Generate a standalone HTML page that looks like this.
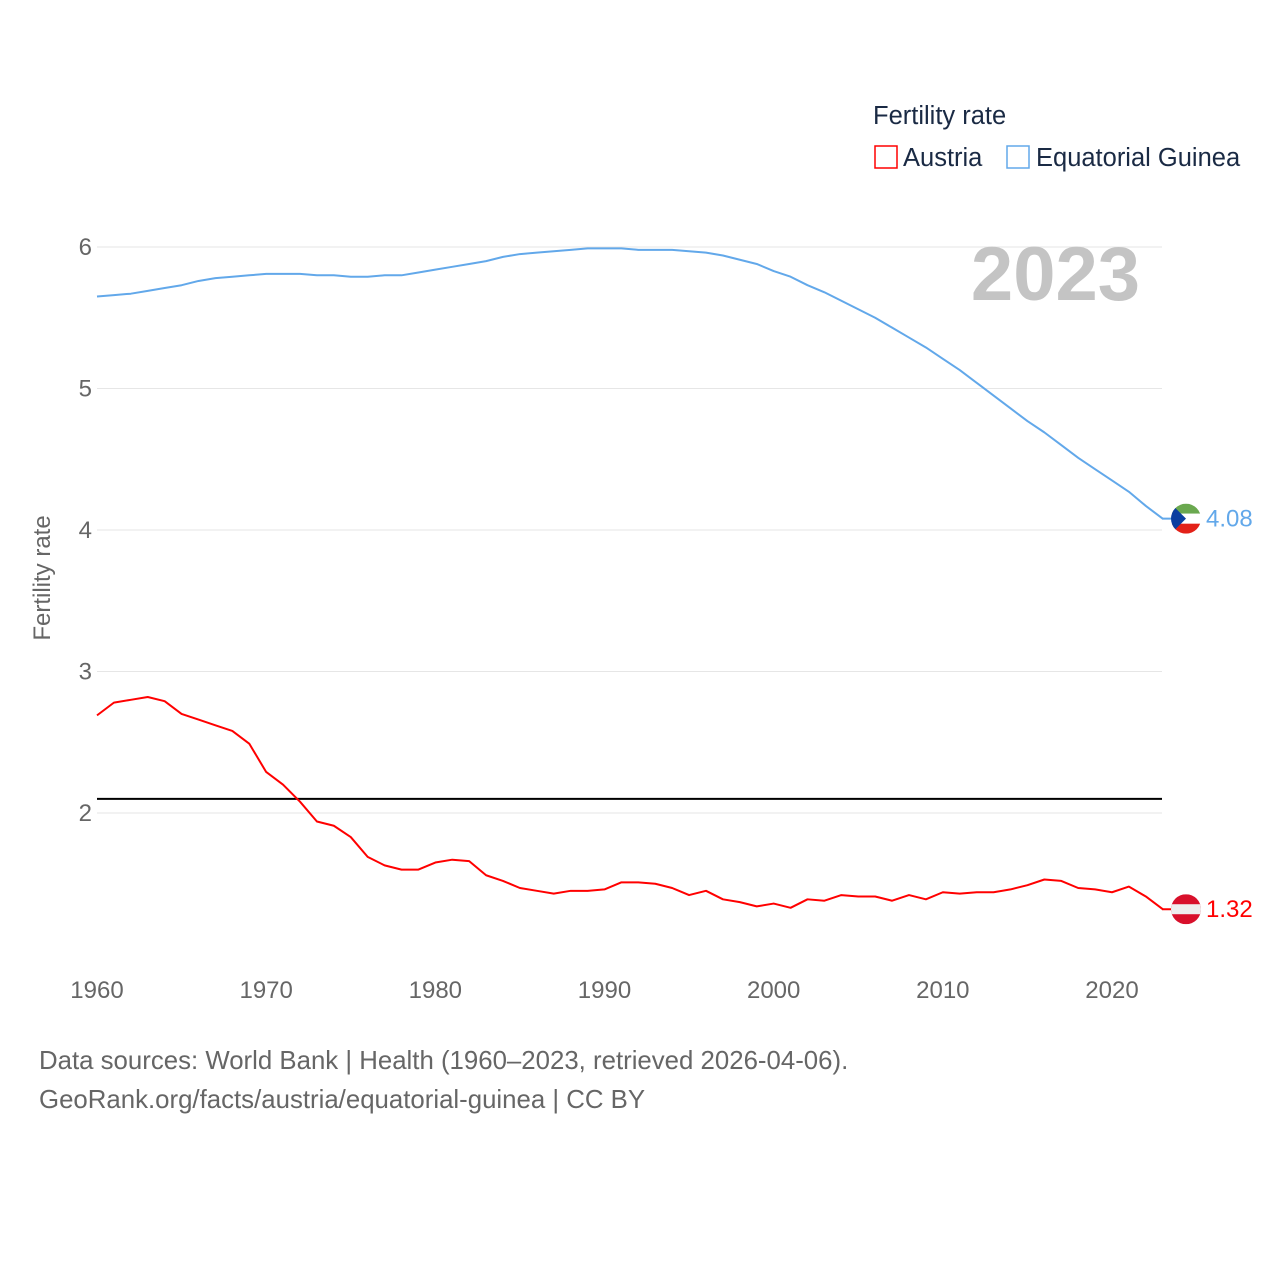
<!DOCTYPE html>
<html><head><meta charset="utf-8"><style>
body{margin:0;background:#fff;}
svg text{font-family:"Liberation Sans",sans-serif;}
</style></head><body>
<svg id="chart" width="1280" height="1280" viewBox="0 0 1280 1280" xmlns="http://www.w3.org/2000/svg">
<rect width="1280" height="1280" fill="#fff"/>
<g id="grid"></g>
<g id="yticks"></g>
<g id="xticks"></g>
<text x="1140" y="300" text-anchor="end" font-size="76" font-weight="bold" fill="#c4c4c4">2023</text>
<text transform="translate(50,578) rotate(-90)" text-anchor="middle" font-size="24" fill="#666">Fertility rate</text>
<g id="series"></g>
<g>
<text x="873" y="124" font-size="25.5" fill="#1a2a44">Fertility rate</text>
<g><rect x="875" y="146" width="22" height="22" fill="none" stroke="#ff0000" stroke-width="1.5"/><text x="903" y="166" font-size="25.5" fill="#1a2a44">Austria</text></g>
<g><rect x="1007" y="146" width="22" height="22" fill="none" stroke="#62a8ea" stroke-width="1.5"/><text x="1036" y="166" font-size="25.5" fill="#1a2a44">Equatorial Guinea</text></g>
</g>
<g>
<text x="39" y="1069" font-size="25.8" fill="#666">Data sources: World Bank | Health (1960–2023, retrieved 2026-04-06).</text>
<text x="39" y="1108" font-size="25.8" fill="#666">GeoRank.org/facts/austria/equatorial-guinea | CC BY</text>
</g>
</svg>
<script>
const years = Array.from({length:64},(_,i)=>1960+i);
const austria = [2.69,2.78,2.80,2.82,2.79,2.70,2.66,2.62,2.58,2.49,2.29,2.20,2.08,1.94,1.91,1.83,1.69,1.63,1.60,1.60,1.65,1.67,1.66,1.56,1.52,1.47,1.45,1.43,1.45,1.45,1.46,1.51,1.51,1.50,1.47,1.42,1.45,1.39,1.37,1.34,1.36,1.33,1.39,1.38,1.42,1.41,1.41,1.38,1.42,1.39,1.44,1.43,1.44,1.44,1.46,1.49,1.53,1.52,1.47,1.46,1.44,1.48,1.41,1.32];
const eqGuinea = [5.65,5.66,5.67,5.69,5.71,5.73,5.76,5.78,5.79,5.80,5.81,5.81,5.81,5.80,5.80,5.79,5.79,5.80,5.80,5.82,5.84,5.86,5.88,5.90,5.93,5.95,5.96,5.97,5.98,5.99,5.99,5.99,5.98,5.98,5.98,5.97,5.96,5.94,5.91,5.88,5.83,5.79,5.73,5.68,5.62,5.56,5.50,5.43,5.36,5.29,5.21,5.13,5.04,4.95,4.86,4.77,4.69,4.60,4.51,4.43,4.35,4.27,4.17,4.08];
const yTicks = [2,3,4,5,6];
const xTicks = [1960,1970,1980,1990,2000,2010,2020];
const replacement = 2.1;
const NS="http://www.w3.org/2000/svg";
const X=y=>97+(y-1960)*(1015/60);
const Y=v=>813-(v-2)*141.5;
function mk(tag,attrs,parent){const e=document.createElementNS(NS,tag);for(const k in attrs)e.setAttribute(k,attrs[k]);parent.appendChild(e);return e;}
const grid=document.getElementById('grid'),yt=document.getElementById('yticks'),xt=document.getElementById('xticks'),ser=document.getElementById('series');
yTicks.forEach(v=>{
 const l=mk('line',{x1:97,x2:1162,y1:Y(v),y2:Y(v),stroke:'#e6e6e6','stroke-width':1},grid);
 
 
 const t=mk('text',{x:92,y:Y(v)+8,'text-anchor':'end','font-size':24,fill:'#666'},yt);t.textContent=v;
 
 
});
xTicks.forEach(v=>{
 const t=mk('text',{x:X(v),y:998,'text-anchor':'middle','font-size':24,fill:'#666'},xt);t.textContent=v;
 
 
});
const rl=mk('line',{x1:97,x2:1162,y1:Y(replacement),y2:Y(replacement),stroke:'#000','stroke-width':2},ser);


function line(vals,color,name){
 const p=mk('polyline',{points:vals.map((v,i)=>X(years[i])+','+Y(v)).join(' '),fill:'none',stroke:color,'stroke-width':2,'stroke-linejoin':'round'},ser);
 
 
}
line(eqGuinea,'#62a8ea','equatorial-guinea-line');
line(austria,'#ff0000','austria-line');
const cx=1186;
{const v=austria[austria.length-1],cy=Y(v);
 mk('line',{x1:1162,x2:cx,y1:cy,y2:cy,stroke:'#ff0000','stroke-width':2},ser);
 const g=mk('g',{},ser);
 
 
 const cp=mk('clipPath',{id:'ca'},g);mk('circle',{cx:cx,cy:cy,r:15},cp);
 mk('rect',{x:cx-15,y:cy-15,width:30,height:30,fill:'#d8102b','clip-path':'url(#ca)'},g);
 mk('rect',{x:cx-15,y:cy-5,width:30,height:10,fill:'#eee','clip-path':'url(#ca)'},g);
 const t=mk('text',{x:1206,y:cy+8,'font-size':24,fill:'#ff0000'},ser);t.textContent=v.toFixed(2);
 
 
}
{const v=eqGuinea[eqGuinea.length-1],cy=Y(v);
 mk('line',{x1:1162,x2:cx,y1:cy,y2:cy,stroke:'#62a8ea','stroke-width':2},ser);
 const g=mk('g',{},ser);
 
 
 const cp=mk('clipPath',{id:'cg'},g);mk('circle',{cx:cx,cy:cy,r:15},cp);
 mk('rect',{x:cx-15,y:cy-15,width:30,height:10,fill:'#6aa84f','clip-path':'url(#cg)'},g);
 mk('rect',{x:cx-15,y:cy-5,width:30,height:10,fill:'#fff','clip-path':'url(#cg)'},g);
 mk('rect',{x:cx-15,y:cy+5,width:30,height:10,fill:'#e32118','clip-path':'url(#cg)'},g);
 mk('polygon',{points:`${cx-15},${cy-15} ${cx},${cy} ${cx-15},${cy+15}`,fill:'#0b3ea0','clip-path':'url(#cg)'},g);
 const t=mk('text',{x:1206,y:cy+8,'font-size':24,fill:'#62a8ea'},ser);t.textContent=v.toFixed(2);
 
 
}
</script>
</body></html>
